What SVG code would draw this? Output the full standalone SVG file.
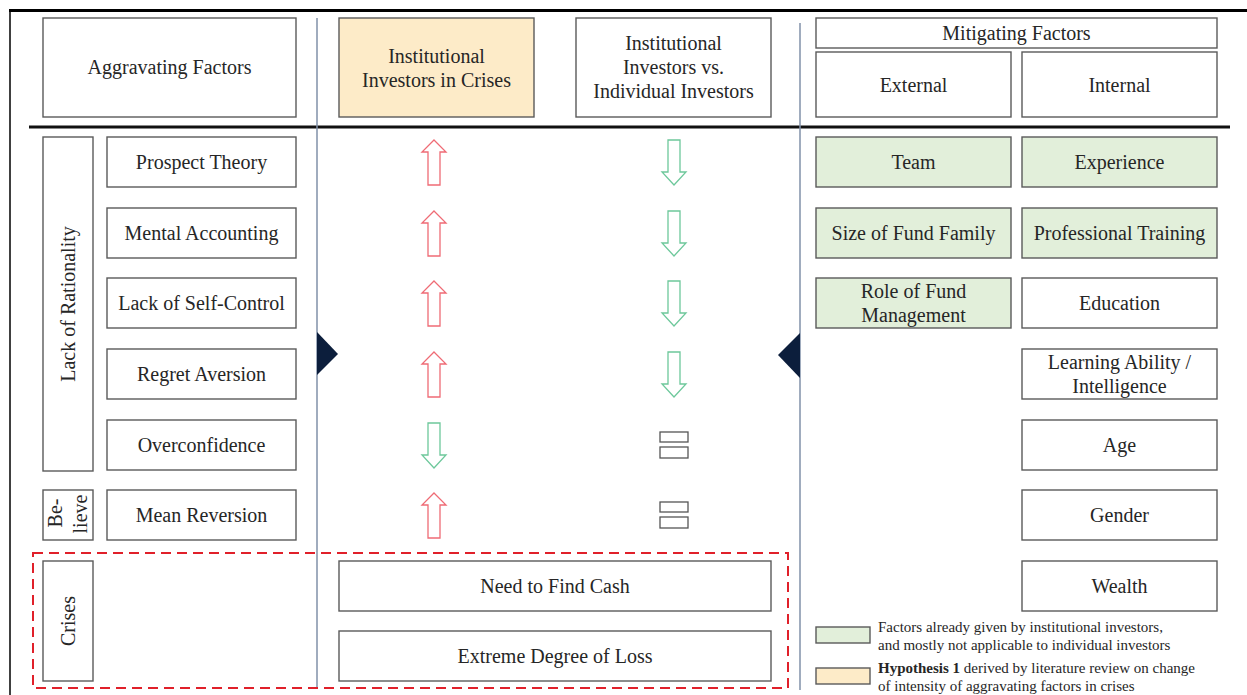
<svg xmlns="http://www.w3.org/2000/svg" width="1247" height="695" viewBox="0 0 1247 695">
<style>
.b{fill:#fff;stroke:#5a5a5a;stroke-width:1.4}
.g{fill:#e2efda;stroke:#5a5a5a;stroke-width:1.4}
.y{fill:#fdebc8;stroke:#5a5a5a;stroke-width:1.4}
.t{font-family:'Liberation Serif','DejaVu Serif',serif;font-size:20px;fill:#262626;text-anchor:middle}
.l{font-family:'Liberation Serif','DejaVu Serif',serif;font-size:15px;fill:#262626}
.up{fill:#fff;stroke:#ef6b75;stroke-width:1.3}
.dn{fill:#fff;stroke:#6dc89b;stroke-width:1.3}
.eq{fill:#fff;stroke:#555;stroke-width:1.3}
.sep{stroke:#8090a8;stroke-width:1.5;fill:none}
.tri{fill:#0c1e3c}
</style>
<defs>
<polygon id="upA" points="0,0 12,12 6,12 6,45 -6,45 -6,12 -12,12"/>
<polygon id="dnA" points="-6,0 6,0 6,32 12,32 0,45 -12,32 -6,32"/>
<g id="eqS"><rect x="-14" y="0" width="28" height="10"/><rect x="-14" y="15" width="28" height="11"/></g>
</defs>
<rect width="1247" height="695" fill="#fff"/>
<g id="frame">
<line x1="10" y1="10" x2="10" y2="695" stroke="#404040" stroke-width="2"/>
<line x1="9" y1="10.5" x2="1247" y2="10.5" stroke="#000" stroke-width="3"/>
<line x1="29" y1="127" x2="1230" y2="127" stroke="#111" stroke-width="3"/>
</g>
<g id="connectors">
<line class="sep" x1="317" y1="18" x2="317" y2="688"/>
<line class="sep" x1="800" y1="23" x2="800" y2="690"/>
<polygon class="tri" points="317,332 338,354 317,375"/>
<polygon class="tri" points="800,333 778,355 800,378"/>
<rect x="33" y="553" width="755" height="135" fill="none" stroke="#e0202a" stroke-width="2" stroke-dasharray="10 6"/>
</g>
<g id="hdr-aggravating"><rect class="b" x="43" y="18" width="253" height="99"/><text class="t" x="169.5" y="74">Aggravating Factors</text></g>
<g id="hdr-crises"><rect class="y" x="339" y="18" width="195" height="99"/><text class="t" x="436.5" y="63">Institutional</text><text class="t" x="436.5" y="87">Investors in Crises</text></g>
<g id="hdr-vs"><rect class="b" x="576" y="18" width="195" height="99"/><text class="t" x="673.5" y="50">Institutional</text><text class="t" x="673.5" y="74">Investors vs.</text><text class="t" x="673.5" y="98">Individual Investors</text></g>
<g id="hdr-mitigating"><rect class="b" x="816" y="18" width="401" height="30"/><text class="t" x="1016.5" y="40">Mitigating Factors</text></g>
<g id="hdr-external"><rect class="b" x="816" y="52" width="195" height="65"/><text class="t" x="913.5" y="92">External</text></g>
<g id="hdr-internal"><rect class="b" x="1022" y="52" width="195" height="65"/><text class="t" x="1119.5" y="92">Internal</text></g>
<g id="grp-rationality"><rect class="b" x="43" y="137" width="50" height="334"/><text class="t" transform="translate(75,304) rotate(-90)">Lack of Rationality</text></g>
<g id="grp-believe"><rect class="b" x="43" y="490" width="50" height="50"/><text class="t" transform="translate(62,513) rotate(-90)">Be-</text><text class="t" transform="translate(87,514) rotate(-90)">lieve</text></g>
<g id="grp-crises"><rect class="b" x="43" y="561" width="50" height="120"/><text class="t" transform="translate(75,621) rotate(-90)">Crises</text></g>
<g id="f-prospect"><rect class="b" x="107" y="137" width="189" height="50"/><text class="t" x="201.5" y="169">Prospect Theory</text></g>
<g id="f-mental"><rect class="b" x="107" y="208" width="189" height="50"/><text class="t" x="201.5" y="240">Mental Accounting</text></g>
<g id="f-selfcontrol"><rect class="b" x="107" y="278" width="189" height="50"/><text class="t" x="201.5" y="310">Lack of Self-Control</text></g>
<g id="f-regret"><rect class="b" x="107" y="349" width="189" height="50"/><text class="t" x="201.5" y="381">Regret Aversion</text></g>
<g id="f-overconf"><rect class="b" x="107" y="420" width="189" height="50"/><text class="t" x="201.5" y="452">Overconfidence</text></g>
<g id="f-meanrev"><rect class="b" x="107" y="490" width="189" height="50"/><text class="t" x="201.5" y="522">Mean Reversion</text></g>
<g id="f-cash"><rect class="b" x="339" y="561" width="432" height="50"/><text class="t" x="555" y="593">Need to Find Cash</text></g>
<g id="f-loss"><rect class="b" x="339" y="631" width="432" height="50"/><text class="t" x="555" y="663">Extreme Degree of Loss</text></g>
<g id="col-crises">
<use href="#upA" class="up" x="434" y="140"/>
<use href="#upA" class="up" x="434" y="211"/>
<use href="#upA" class="up" x="434" y="281"/>
<use href="#upA" class="up" x="434" y="352"/>
<use href="#dnA" class="dn" x="434" y="423"/>
<use href="#upA" class="up" x="434" y="493"/>
</g>
<g id="col-vs">
<use href="#dnA" class="dn" x="674" y="140"/>
<use href="#dnA" class="dn" x="674" y="211"/>
<use href="#dnA" class="dn" x="674" y="281"/>
<use href="#dnA" class="dn" x="674" y="352"/>
<use href="#eqS" class="eq" x="674" y="432"/>
<use href="#eqS" class="eq" x="674" y="502"/>
</g>
<g id="m-team"><rect class="g" x="816" y="137" width="195" height="50"/><text class="t" x="913.5" y="169">Team</text></g>
<g id="m-experience"><rect class="g" x="1022" y="137" width="195" height="50"/><text class="t" x="1119.5" y="169">Experience</text></g>
<g id="m-size"><rect class="g" x="816" y="208" width="195" height="50"/><text class="t" x="913.5" y="240">Size of Fund Family</text></g>
<g id="m-training"><rect class="g" x="1022" y="208" width="195" height="50"/><text class="t" x="1119.5" y="240">Professional Training</text></g>
<g id="m-role"><rect class="g" x="816" y="278" width="195" height="50"/><text class="t" x="913.5" y="298">Role of Fund</text><text class="t" x="913.5" y="322">Management</text></g>
<g id="m-education"><rect class="b" x="1022" y="278" width="195" height="50"/><text class="t" x="1119.5" y="310">Education</text></g>
<g id="m-learning"><rect class="b" x="1022" y="349" width="195" height="50"/><text class="t" x="1119.5" y="369">Learning Ability /</text><text class="t" x="1119.5" y="393">Intelligence</text></g>
<g id="m-age"><rect class="b" x="1022" y="420" width="195" height="50"/><text class="t" x="1119.5" y="452">Age</text></g>
<g id="m-gender"><rect class="b" x="1022" y="490" width="195" height="50"/><text class="t" x="1119.5" y="522">Gender</text></g>
<g id="m-wealth"><rect class="b" x="1022" y="561" width="195" height="50"/><text class="t" x="1119.5" y="593">Wealth</text></g>
<g id="legend">
<rect class="g" x="816" y="627" width="54" height="16"/>
<text class="l" x="878" y="632">Factors already given by institutional investors,</text>
<text class="l" x="878" y="650">and mostly not applicable to individual investors</text>
<rect class="y" x="816" y="668" width="54" height="16"/>
<text class="l" x="878" y="673"><tspan font-weight="bold">Hypothesis 1</tspan> derived by literature review on change</text>
<text class="l" x="878" y="691">of intensity of aggravating factors in crises</text>
</g>
</svg>
